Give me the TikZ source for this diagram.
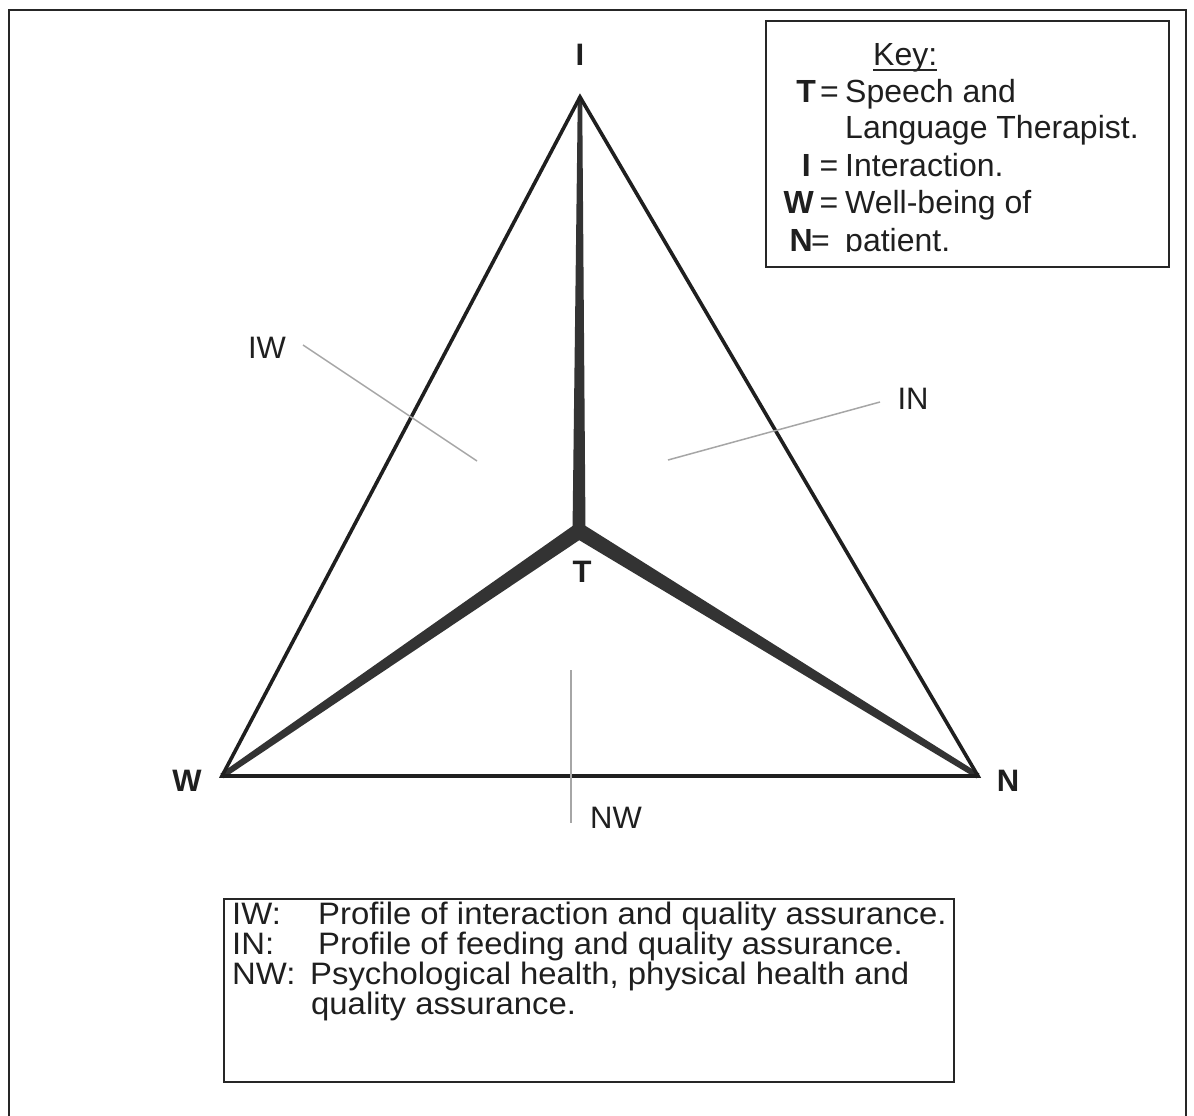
\documentclass[tikz,border=0pt]{standalone}
\usepackage{fontspec}
\setmainfont{Liberation Sans}
\newfontfamily\notefont[FakeStretch=1.06]{Liberation Sans}
\usetikzlibrary{calc}
\begin{document}
\begin{tikzpicture}[x=1pt,y=-1pt,
  frame/.style={draw=black!85, line width=2.5pt},
  edge/.style={draw=black!88, line width=3.6pt, line join=miter},
  spoke/.style={fill=black!80},
  leader/.style={draw=black!35, line width=1.5pt},
  vlabel/.style={text=black!88, font=\fontsize{31}{36}\selectfont\bfseries, inner sep=0pt},
  rlabel/.style={text=black!88, font=\fontsize{31}{36}\selectfont, inner sep=0pt},
  keytext/.style={text=black!88, font=\fontsize{32}{36}\selectfont, anchor=base west, inner sep=0pt},
  keysym/.style={text=black!88, font=\fontsize{32}{36}\selectfont\bfseries, anchor=base east, inner sep=0pt},
  keyeq/.style={text=black!88, font=\fontsize{32}{36}\selectfont, anchor=base, inner sep=0pt},
  noteline/.style={text=black!88, font=\notefont\fontsize{31}{34}\selectfont, anchor=base west, inner sep=0pt},
]
\useasboundingbox (0,0) rectangle (1194,1116);
\fill[white] (0,0) rectangle (1194,1116);

% outer frame, running on past the foot of the page
\draw[frame] (9,1125) -- (9,10) -- (1186,10) -- (1186,1125);

% corners of the triangle and the centre point
\coordinate (I) at (580,97);
\coordinate (W) at (222,776);
\coordinate (N) at (978,776);
\coordinate (T) at (579,531);

% tapered spokes from the centre
\fill[spoke] ($(I)!2.2pt!90:(T)$) -- ($(T)!6.5pt!-90:(I)$) -- ($(T)!6.5pt!90:(I)$) -- ($(I)!2.2pt!-90:(T)$) -- cycle;
\fill[spoke] ($(T)!7.8pt!90:(W)$) -- ($(W)!2.8pt!-90:(T)$) -- ($(W)!2.8pt!90:(T)$) -- ($(T)!7.8pt!-90:(W)$) -- cycle;
\fill[spoke] ($(T)!7.8pt!90:(N)$) -- ($(N)!2.8pt!-90:(T)$) -- ($(N)!2.8pt!90:(T)$) -- ($(T)!7.8pt!-90:(N)$) -- cycle;
\fill[spoke] (T) circle (7pt);

% triangle
\draw[edge] (I) -- (W) -- (N) -- cycle;

% corner labels
\node[vlabel] (lI) at (580,55) {I};
\node[vlabel] (lW) at (187,781) {W};
\node[vlabel] (lN) at (1008,781) {N};
\node[vlabel] (lT) at (582,572) {T};

% leader lines for the sides
\coordinate (iwA) at (303,345);
\coordinate (iwB) at (477,461);
\coordinate (inA) at (668,460);
\coordinate (inB) at (880,402);
\coordinate (nwA) at (571,670);
\coordinate (nwB) at (571,823);
\draw[leader] (iwA) -- (iwB);
\draw[leader] (inA) -- (inB);
\draw[leader] (nwA) -- (nwB);
\node[rlabel] (lIW) at (267,348) {IW};
\node[rlabel] (lIN) at (913,399) {IN};
\node[rlabel] (lNW) at (616,818) {NW};

% key
\draw[frame] (766,21) rectangle (1169,267);
\begin{scope}
\clip (766,21) rectangle (1169,251.5);
\node[keytext] (kt) at (873,66) {Key:};
\draw[draw=black!85, line width=1.4pt] ([yshift=-4pt]kt.base west) -- ([yshift=-4pt]kt.base east);
\node[keysym] (k1s) at (816,102) {T};
\node[keyeq] (k1e) at (829.5,102) {=};
\node[keytext] (k1t) at (845,102) {Speech and};
\node[keytext] (k2t) at (845,138) {Language Therapist.};
\node[keysym] (k3s) at (811,176) {I};
\node[keyeq] (k3e) at (829,176) {=};
\node[keytext] (k3t) at (845,176) {Interaction.};
\node[keysym] (k4s) at (814,213) {W};
\node[keyeq] (k4e) at (829,213) {=};
\node[keytext] (k4t) at (845,213) {Well-being of};
\node[keysym] (k5s) at (813,251) {N};
\node[keyeq] (k5e) at (820.5,251) {=};
\node[keytext] (k5t) at (845,251) {patient.};
\end{scope}

% notes on the sides
\draw[frame] (224,899) rectangle (954,1082);
\node[noteline] (n1a) at (232,924) {IW:};
\node[noteline] (n1b) at (318,924) {Profile of interaction and quality assurance.};
\node[noteline] (n2a) at (232,954) {IN:};
\node[noteline] (n2b) at (318,954) {Profile of feeding and quality assurance.};
\node[noteline] (n3a) at (232,984) {NW:};
\node[noteline] (n3b) at (310,984) {Psychological health, physical health and};
\node[noteline] (n4b) at (311,1014) {quality assurance.};
\end{tikzpicture}
\end{document}
